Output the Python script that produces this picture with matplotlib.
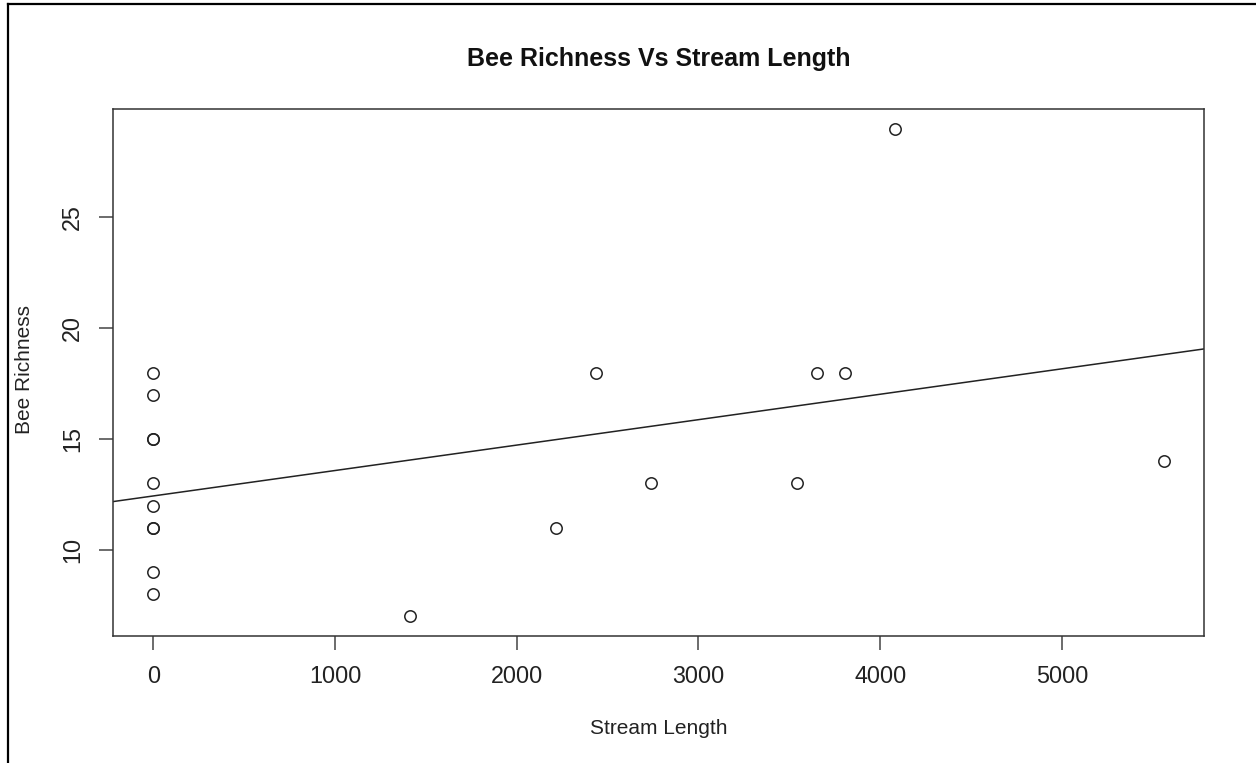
import numpy as np
import matplotlib
matplotlib.use("Agg")
from matplotlib import pyplot as plt
from matplotlib import rcParams

rcParams.update({
    'font.family': ['Liberation Sans', 'DejaVu Sans'],
    'axes.linewidth': 1.1,
    'axes.edgecolor': '#333333',
})

# Stream length (x) and bee richness (y)
stream_length = [0, 0, 0, 0, 0, 0, 0, 0, 0, 0,
                 1412, 2214, 2434, 2737, 3540, 3650, 3806, 4081, 5560]
bee_richness = [18, 17, 15, 15, 13, 12, 11, 11, 9, 8,
                7, 11, 18, 13, 13, 18, 18, 29, 14]

x_ticks = [0, 1000, 2000, 3000, 4000, 5000]
y_ticks = [10, 15, 20, 25]

x = np.array(stream_length, dtype=float)
y = np.array(bee_richness, dtype=float)

W, H = 1256, 763
fig = plt.figure(figsize=(W / 100, H / 100), dpi=100)
ax = fig.add_axes([113 / W, 1 - 636 / H, 1091 / W, 527 / H])

ax.plot(x, y, 'o', markersize=8.2, markerfacecolor='none',
        markeredgecolor='#222222', markeredgewidth=1.1, linestyle='none')

# linear fit like abline(lm(y ~ x))
slope, intercept = np.polyfit(x, y, 1)
ax.axline((0, intercept), slope=slope, color='#222222', linewidth=1.1)

# R-style 4% padding
xr = x.max() - x.min()
yr = y.max() - y.min()
ax.set_xlim(x.min() - 0.04 * xr, x.max() + 0.04 * xr)
ax.set_ylim(y.min() - 0.04 * yr, y.max() + 0.04 * yr)

ax.set_xticks(x_ticks)
ax.set_yticks(y_ticks)
ax.tick_params(axis='both', direction='out', length=10, width=1.1,
               color='#444444', labelcolor='#222222', labelsize=16.8, pad=11)
ax.tick_params(axis='y', labelrotation=90)
for lab in ax.get_yticklabels():
    lab.set_va('center')

fig.text(658.5 / W, 1 - 728 / H, "Stream Length", ha='center', va='center',
         fontsize=15, color='#222222')
fig.text(25 / W, 1 - 370 / H, "Bee Richness", ha='center', va='center',
         rotation=90, fontsize=15, color='#222222')
fig.text(658.5 / W, 1 - 59 / H, "Bee Richness Vs Stream Length", ha='center',
         va='center', fontsize=18, fontweight='bold', color='#111111')

# outer frame (top and left edges visible in the picture)
fig.add_artist(plt.Line2D([8 / W, 1], [1 - 4 / H, 1 - 4 / H],
                          transform=fig.transFigure, color='black', linewidth=1.6))
fig.add_artist(plt.Line2D([8 / W, 8 / W], [0, 1 - 4 / H],
                          transform=fig.transFigure, color='black', linewidth=1.6))

fig.savefig("out.png", dpi=100)
